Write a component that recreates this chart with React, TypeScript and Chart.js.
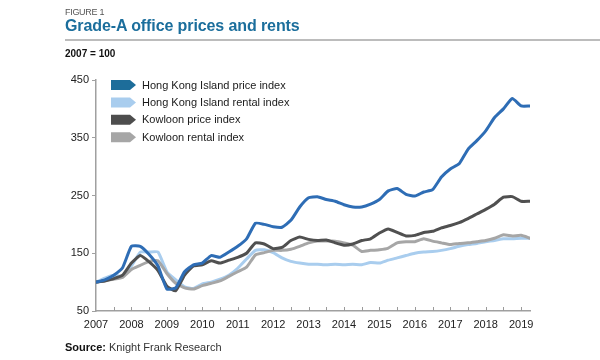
import React, { useEffect, useRef } from "react";
import { Chart, registerables } from "chart.js";

Chart.register(...registerables);

const START_YEAR = 2007;
const YEAR_LABELS = [2007, 2008, 2009, 2010, 2011, 2012, 2013, 2014, 2015, 2016, 2017, 2018, 2019];
const Y_TICKS = [50, 150, 250, 350, 450];

const SERIES_NAMES = [
  "Hong Kong Island price index",
  "Hong Kong Island rental index",
  "Kowloon price index",
  "Kowloon rental index",
];

// quarterly values, 2007Q1 .. 2019Q2
const hkiPrice = [
  100, 104, 112, 125, 162, 162, 148, 128, 88, 90,
  118, 130, 133, 146, 143, 152, 162, 175, 202, 200,
  196, 195, 207, 230, 246, 248, 243, 240, 234, 230,
  230, 235, 243, 258, 262, 252, 249, 256, 260, 282,
  296, 305, 330, 345, 362, 385, 400, 418, 405, 405,
];
const hkiRent = [
  100, 107, 112, 110, 128, 152, 152, 152, 118, 104,
  92, 89, 97, 100, 105, 112, 124, 140, 155, 156,
  151, 142, 136, 133, 131, 131, 130, 131, 130, 131,
  130, 134, 133, 138, 142, 146, 150, 152, 153, 155,
  158, 162, 165, 167, 170, 172, 175, 175, 176, 176,
];
const kowPrice = [
  100, 102, 106, 112, 133, 146, 135, 120, 93, 85,
  112, 128, 130, 137, 133, 138, 143, 150, 168, 166,
  158, 160, 172, 178, 174, 172, 173, 168, 164, 166,
  172, 175, 185, 192, 186, 180, 181, 186, 188, 194,
  198, 203, 210, 218, 226, 235, 247, 248, 240, 240,
];
const kowRent = [
  100, 103, 105, 108, 122, 129, 136, 137, 115, 98,
  90, 88, 94, 98, 102, 110, 118, 126, 147, 151,
  155, 155, 157, 162, 168, 171, 171, 171, 168, 164,
  153, 155, 156, 159, 168, 170, 170, 175, 171, 168,
  165, 167, 168, 170, 172, 176, 182, 180, 181, 176,
];

const LINE_COLORS = ["#2e6db5", "#a9cdee", "#505050", "#a6a6a6"];
const LEGEND_COLORS = ["#1d6d9a", "#a9cdee", "#4d4d4d", "#a6a6a6"];
const DRAW_ORDER = [0, 3, 1, 2];

const FONT = "'Liberation Sans', Arial, sans-serif";

function toPoints(vals: number[]) {
  return vals.map((v, i) => ({ x: START_YEAR + i / 4, y: v }));
}

const innerTicksPlugin = {
  id: "innerTicks",
  afterDraw(chart: any) {
    const xs = chart.scales.x;
    const ctx = chart.ctx;
    const bottom = chart.chartArea.bottom;
    ctx.save();
    ctx.strokeStyle = "#9a9a9a";
    ctx.lineWidth = 1;
    xs.ticks.forEach((t: any) => {
      if (t.value <= xs.min) return;
      const px = Math.round(xs.getPixelForValue(t.value)) + 0.5;
      ctx.beginPath();
      ctx.moveTo(px, bottom);
      ctx.lineTo(px, bottom - 4);
      ctx.stroke();
    });
    ctx.restore();
  },
};

const arrowLegendPlugin = {
  id: "arrowLegend",
  afterDraw(chart: any) {
    const ctx = chart.ctx;
    const x0 = 111;
    const y0 = 85;
    const gap = 17.4;
    ctx.save();
    chart.data.datasets.forEach((ds: any, i: number) => {
      const cy = y0 + i * gap;
      ctx.fillStyle = LEGEND_COLORS[i];
      ctx.beginPath();
      ctx.moveTo(x0, cy - 5);
      ctx.lineTo(x0 + 19, cy - 5);
      ctx.lineTo(x0 + 25, cy);
      ctx.lineTo(x0 + 19, cy + 5);
      ctx.lineTo(x0, cy + 5);
      ctx.closePath();
      ctx.fill();
      ctx.fillStyle = "#1a1a1a";
      ctx.font = `11px ${FONT}`;
      ctx.textBaseline = "middle";
      ctx.textAlign = "left";
      ctx.fillText(ds.label, x0 + 31, cy + 0.5);
    });
    ctx.restore();
  },
};

function ChartCanvas() {
  const ref = useRef<HTMLCanvasElement | null>(null);
  useEffect(() => {
    if (!ref.current) return;
    const seriesVals = [hkiPrice, hkiRent, kowPrice, kowRent];
    const chart = new Chart(ref.current, {
      type: "line",
      data: {
        datasets: seriesVals.map((vals, i) => ({
          label: SERIES_NAMES[i],
          data: toPoints(vals),
          borderColor: LINE_COLORS[i],
          backgroundColor: LINE_COLORS[i],
          borderWidth: 3,
          pointRadius: 0,
          tension: 0.15,
          borderJoinStyle: "round" as const,
          borderCapStyle: "round" as const,
          order: DRAW_ORDER[i],
        })),
      },
      options: {
        animation: false,
        responsive: false,
        layout: { padding: { left: 0, right: 70, top: 80, bottom: 29 } },
        plugins: {
          legend: { display: false },
          tooltip: { enabled: false },
        },
        scales: {
          x: {
            type: "linear",
            min: 2007,
            max: 2019.25,
            afterBuildTicks: (scale: any) => {
              const t: any[] = [];
              YEAR_LABELS.forEach((y) => {
                t.push({ value: y });
                if (y < 2019) t.push({ value: y + 0.5 });
              });
              scale.ticks = t;
            },
            afterFit: (scale: any) => {
              scale.height = 20;
            },
            grid: { drawOnChartArea: false, drawTicks: false },
            border: { display: true, color: "#a0a0a0", width: 1.5 },
            ticks: {
              autoSkip: false,
              maxRotation: 0,
              padding: 7,
              color: "#222",
              font: { family: FONT, size: 11 },
              callback: (v: any) => (Number.isInteger(v) ? String(v) : ""),
            },
          },
          y: {
            type: "linear",
            min: 50,
            max: 450,
            afterBuildTicks: (scale: any) => {
              scale.ticks = Y_TICKS.map((v) => ({ value: v }));
            },
            afterFit: (scale: any) => {
              scale.width = 96;
            },
            grid: { drawOnChartArea: false, drawTicks: true, tickLength: 4, color: "#a0a0a0" },
            border: { display: true, color: "#a0a0a0", width: 1.5 },
            ticks: {
              padding: 3,
              color: "#222",
              font: { family: FONT, size: 11 },
              callback: (v: any) => String(v),
            },
          },
        },
      },
      plugins: [innerTicksPlugin, arrowLegendPlugin],
    });
    return () => chart.destroy();
  }, []);
  return (
    <canvas
      ref={ref}
      width={600}
      height={360}
      style={{ position: "absolute", left: 0, top: 0, width: 600, height: 360 }}
    />
  );
}

export default function App() {
  return (
    <div
      style={{
        position: "fixed",
        left: 0,
        top: 0,
        width: 600,
        height: 360,
        background: "#fff",
        fontFamily: FONT,
        overflow: "hidden",
      }}
    >
      <ChartCanvas />
      <div style={{ position: "absolute", left: 65, top: 7, fontSize: 9, color: "#555", letterSpacing: -0.3 }}>
        FIGURE 1
      </div>
      <div
        style={{
          position: "absolute",
          left: 65,
          top: 17,
          fontSize: 16,
          fontWeight: "bold",
          color: "#1b6e9c",
          letterSpacing: -0.1,
        }}
      >
        Grade-A office prices and rents
      </div>
      <div style={{ position: "absolute", left: 65, top: 39, width: 535, height: 2, background: "#bcbcbc" }} />
      <div style={{ position: "absolute", left: 65, top: 48, fontSize: 10, fontWeight: "bold", color: "#111" }}>
        2007 = 100
      </div>
      <div style={{ position: "absolute", left: 65, top: 341, fontSize: 11, color: "#333" }}>
        <span style={{ fontWeight: "bold", color: "#111" }}>Source:</span> Knight Frank Research
      </div>
    </div>
  );
}
